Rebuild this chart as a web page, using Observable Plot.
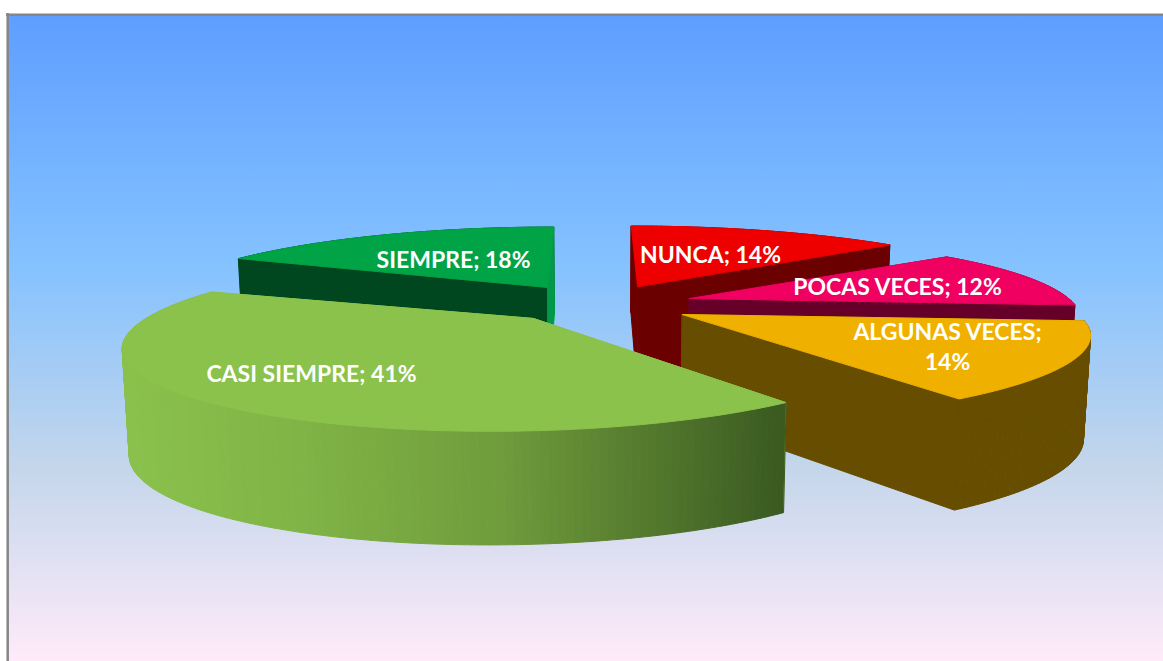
<!DOCTYPE html>
<html><head><meta charset="utf-8">
<script src="https://cdn.jsdelivr.net/npm/d3@7"></script>
<script src="https://cdn.jsdelivr.net/npm/@observablehq/plot@0.6"></script>
<style>html,body{margin:0;padding:0;background:#fff;overflow:hidden}</style>
</head><body><div id="chart"></div>
<script>
// Data
const categories = ["NUNCA","POCAS VECES","ALGUNAS VECES","CASI SIEMPRE","SIEMPRE"];
const values = [14,12,14,41,18];
const labelBreak = [false,false,true,false,false];

// Styling and layout (exploded 3D pie)
const topColors  = ["#ee0000","#f00060","#efb000","#8ac24b","#00a346"];
const face0Colors= ["#6b0000","#660029","#664d00","#8ac24b","#004720"];
const face1Colors= ["#6b0000","#660029","#664d00","#8ac24b","#029a48"];
const rimColors  = ["#6b0000","#660029","#664d00",null,"#004720"];
const drawOrder = [4,0,1,2,3];
const apexX = [637,689,682,533,547];
const apexY = [286,298,314,318,287];
const reachX = [391,379,395,372,384];
const shears = [8,-16,-16,-16,-8];
const skew   = [0,0,0,0.04,0];
const flatY  = [78,78,78,80,78];
const endTrim = [0,0,0,0.07,0];
const labelDx = [73,208,265,-222,-94];
const labelDy = [-33,-13,31,54,-29];
const W = 1163, H = 661, tilt = -0.29, vanishX = 605, converge = 0.0145;

const casiRim = d3.scaleLinear().domain([127,300,500,782])
  .range(["#8ac14c","#80b446","#709c3c","#3a5a21"]);

const total = d3.sum(values);
const cum = d3.cumsum(values);
const polys = [];
let pid = 0;
function add(points, color){
  const id = pid++;
  points.forEach(p => polys.push({id, x:p[0], y:p[1], color}));
}
const labels = [];
drawOrder.forEach(i=>{
  const name = categories[i];
  const t0 = (cum[i]-values[i])/total*2*Math.PI, t1 = cum[i]/total*2*Math.PI - endTrim[i];
  const proj = (t,r=1)=>{
    const pX=r*Math.sin(t), pY=-r*Math.cos(t), w=1+skew[i]*pX+tilt*pY;
    return {x:apexX[i]+(reachX[i]*pX+shears[i]*pY)/w, y:apexY[i]+flatY[i]*pY/w, w};
  };
  const low = p => { const depth=101+(0.98-p.w)*46.5;
    return [p.x-converge*(p.x-vanishX), p.y+depth]; };
  const up = p => [p.x,p.y];
  const A = proj(0,0);
  const n = Math.max(8,Math.round((t1-t0)*60));
  const ts = d3.range(n+1).map(k=>t0+(t1-t0)*k/n);
  const face = (t,c)=>{const P=proj(t); add([up(A),up(P),low(P),low(A)],c);};
  const rim = ()=>{ for(let k=0;k<n;k++){
      const a=proj(ts[k]), b=proj(ts[k+1]);
      const col = rimColors[i] || casiRim((a.x+b.x)/2);
      add([up(a),up(b),low(b),low(a)],col);
  }};
  const spansFront = t0<Math.PI && t1>Math.PI;
  if(spansFront){ face(t0,face0Colors[i]); face(t1,face1Colors[i]); rim(); }
  else { rim(); face(t0,face0Colors[i]); face(t1,face1Colors[i]); }
  add([up(A),...ts.map(t=>up(proj(t)))],topColors[i]);
  labels.push({x:apexX[i]+labelDx[i], y:apexY[i]+labelDy[i],
    text:`${name};${labelBreak[i]?"\n":" "}${values[i]}%`});
});

const chart = Plot.plot({
  width:W, height:H, margin:0,
  x:{domain:[0,W],range:[0,W],axis:null},
  y:{domain:[0,H],range:[0,H],axis:null},
  style:{background:"linear-gradient(180deg,#5e9eff 0%,#85c2ff 39%,#c4d6eb 70%,#ffebfa 100%) 7px 14px / 100% 648px no-repeat #fff",display:"block"},
  marks:[
    Plot.line(polys,{x:"x",y:"y",z:"id",fill:{value:"color",scale:null},stroke:{value:"color",scale:null},strokeWidth:1,curve:"linear-closed"}),
    Plot.text(labels,{x:"x",y:"y",text:"text",fill:"white",fontWeight:"bold",fontFamily:"Lato",fontSize:23,lineHeight:1.3,textAnchor:"middle"}),
    Plot.ruleY([14.3],{x1:6,x2:W,stroke:"#868686",strokeWidth:2.5}),
    Plot.ruleX([7.2],{y1:13,y2:H,stroke:"#868686",strokeWidth:2.5})
  ]
});
document.getElementById("chart").append(chart);
</script></body></html>
